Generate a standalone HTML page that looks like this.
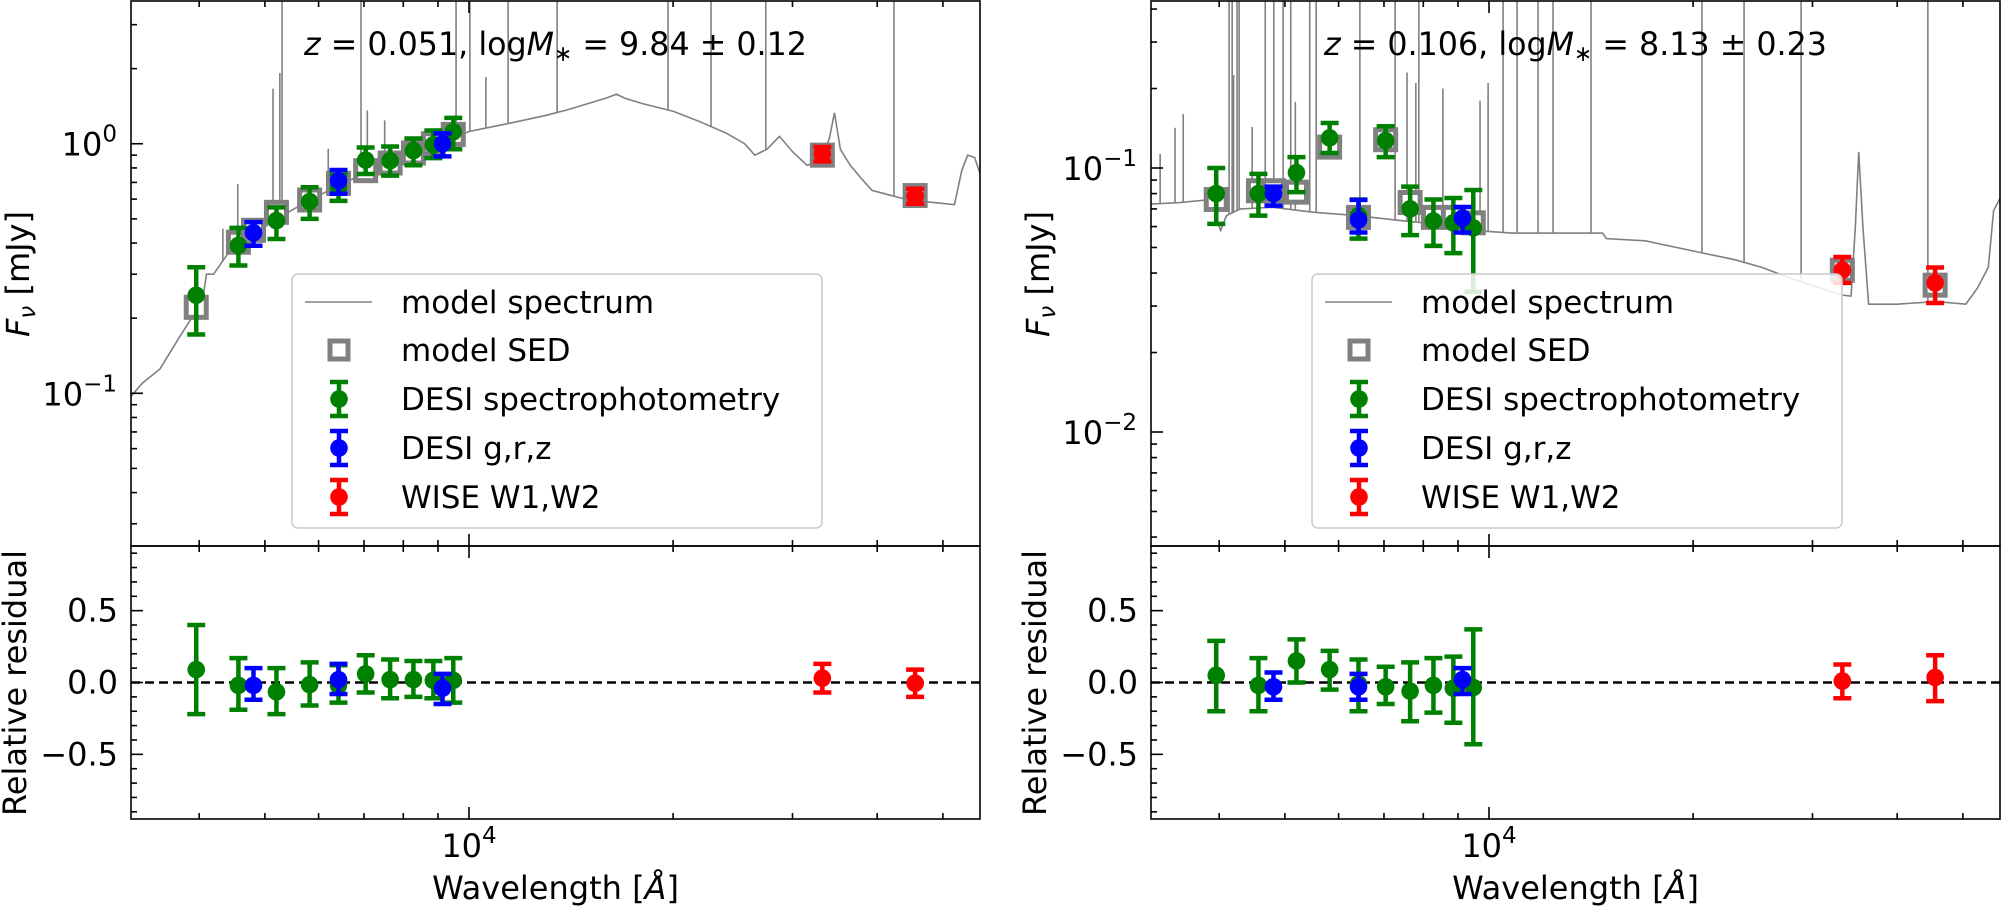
<!DOCTYPE html>
<html><head><meta charset="utf-8"><style>
html,body{margin:0;padding:0;background:#fff;}
svg{display:block;font-family:"DejaVu Sans","Liberation Sans",sans-serif;}
</style></head><body>
<svg id="fig" width="2001" height="908" viewBox="0 0 2001 908" xmlns="http://www.w3.org/2000/svg"></svg>
<script>
// ---------- DATA: left galaxy (z=0.051) ----------
const bandGreen = [3960,4570,5200,5820,6420,7040,7650,8280,8860,9480];
const bandBlue = [4810,6420,9140];
const bandRed = [33200,45500];

const leftGreenFlux = [0.247,0.391,0.492,0.586,0.669,0.86,0.855,0.938,0.99,1.117];
const leftGreenHi = [0.32,0.46,0.556,0.669,0.75,0.966,0.975,1.05,1.13,1.27];
const leftGreenLo = [0.172,0.325,0.415,0.50,0.59,0.756,0.745,0.82,0.876,0.95];
const leftBlueFlux = [0.44,0.711,1.0];
const leftBlueHi = [0.485,0.785,1.1];
const leftBlueLo = [0.39,0.63,0.89];
const leftRedFlux = [0.91,0.615];
const leftRedHi = [0.97,0.66];
const leftRedLo = [0.85,0.575];
const leftSedWave = [3960,4570,4810,5200,5820,6420,7040,7650,8280,8860,9480,33200,45500];
const leftSedFlux = [0.221,0.403,0.45,0.531,0.595,0.694,0.78,0.837,0.918,1.0,1.09,0.90,0.62];
const leftResGreen = [0.09,-0.02,-0.065,-0.015,-0.02,0.06,0.02,0.02,0.015,0.015];
const leftResGreenHi = [0.40,0.17,0.10,0.14,0.12,0.19,0.16,0.15,0.15,0.17];
const leftResGreenLo = [-0.22,-0.19,-0.22,-0.16,-0.14,-0.07,-0.11,-0.10,-0.11,-0.14];
const leftResBlue = [-0.02,0.02,-0.04];
const leftResBlueHi = [0.10,0.13,0.06];
const leftResBlueLo = [-0.12,-0.08,-0.15];
const leftResRed = [0.03,-0.005];
const leftResRedHi = [0.13,0.09];
const leftResRedLo = [-0.07,-0.10];
const leftSpecWave = [3170,3300,3500,3700,3850,3950,4000,4050,4100,4200,4400,4600,4860,5200,5600,6000,6500,7000,7500,8000,8500,9000,9500,10000,11000,12000,13000,14000,15000,16000,16500,17000,18000,20000,22000,24000,25500,26400,27500,28700,30000,31500,33000,34000,34600,35300,36500,38000,39300,42000,44000,46000,49000,52000,53300,54400,55700,56900];
const leftSpecFlux = [0.097,0.11,0.125,0.16,0.19,0.21,0.26,0.24,0.30,0.30,0.36,0.40,0.44,0.50,0.56,0.62,0.69,0.76,0.82,0.88,0.94,0.99,1.05,1.12,1.18,1.24,1.30,1.37,1.45,1.53,1.58,1.52,1.45,1.35,1.22,1.10,1.0,0.90,0.95,1.07,0.93,0.82,0.85,1.05,1.33,0.95,0.82,0.72,0.65,0.62,0.60,0.59,0.58,0.57,0.78,0.90,0.88,0.74];
const leftLineWave = [4335,4560,5140,5260,5300,6200,6930,7080,7510,9570,10030,10590,11420,13490,19660,22750,27400,42350];
const leftLinePeak = [0.457,0.69,1.66,1.92,10,0.955,10,1.36,1.24,10,10,1.85,10,10,10,10,10,10];

// ---------- DATA: right galaxy (z=0.106) ----------
const rightGreenFlux = [0.080,0.080,0.096,0.130,0.066,0.127,0.070,0.063,0.062,0.0593];
const rightGreenHi = [0.100,0.095,0.110,0.148,0.076,0.144,0.085,0.076,0.077,0.0825];
const rightGreenLo = [0.0614,0.066,0.081,0.114,0.054,0.110,0.0557,0.0507,0.0476,0.034];
const rightBlueFlux = [0.080,0.0636,0.0646];
const rightBlueHi = [0.085,0.0757,0.0712];
const rightBlueLo = [0.072,0.057,0.057];
const rightRedFlux = [0.041,0.0367];
const rightRedHi = [0.046,0.042];
const rightRedLo = [0.0367,0.0308];
const rightSedWave = [3960,4570,4810,5200,5820,6420,7040,7650,8280,8860,9480,33200,45500];
const rightSedFlux = [0.076,0.082,0.082,0.081,0.12,0.065,0.128,0.074,0.065,0.065,0.062,0.041,0.036];
const rightResGreen = [0.05,-0.02,0.15,0.09,-0.01,-0.03,-0.06,-0.02,-0.04,-0.035];
const rightResGreenHi = [0.29,0.17,0.30,0.22,0.16,0.11,0.14,0.17,0.18,0.37];
const rightResGreenLo = [-0.20,-0.20,0.0,-0.05,-0.20,-0.15,-0.27,-0.21,-0.28,-0.43];
const rightResBlue = [-0.03,-0.03,0.02];
const rightResBlueHi = [0.07,0.06,0.10];
const rightResBlueLo = [-0.12,-0.12,-0.08];
const rightResRed = [0.01,0.035];
const rightResRedHi = [0.125,0.19];
const rightResRedLo = [-0.11,-0.13];
const rightSpecWave = [3170,3500,3900,3980,4020,4100,4300,4800,5500,6400,7500,8500,9500,10800,12500,14700,14900,17000,20700,23000,25300,28000,32000,33200,34200,34700,35100,35600,36300,40000,44000,47000,50500,52500,54500,55500,56900];
const rightSpecFlux = [0.073,0.074,0.076,0.062,0.058,0.066,0.070,0.071,0.068,0.066,0.063,0.061,0.058,0.0567,0.0567,0.0567,0.054,0.053,0.0476,0.045,0.042,0.038,0.034,0.033,0.0327,0.06,0.115,0.06,0.0305,0.0305,0.031,0.031,0.0305,0.035,0.042,0.069,0.078];
const rightLineWave = [4137,4180,4250,4280,4677,4815,4970,5100,5440,5560,6450,7270,7880,10490,11000,11810,12430,14140,20610,23780,28860,44390,3273,3443,3540,4200,4474,5180,7570,7800,8550,9700,9970];
const rightLinePeak = [10,10,10,10,10,10,10,10,10,10,10,10,10,10,10,10,10,10,10,10,10,10,0.113,0.142,0.16,0.225,0.143,0.178,0.23,0.21,0.20,0.18,0.21];

// ---------- LAYOUT ----------
const NS = "http://www.w3.org/2000/svg";
const svg = document.getElementById('fig');
function mk(tag, attrs, parent){const e=document.createElementNS(NS,tag);for(const k in attrs)e.setAttribute(k,attrs[k]);(parent||svg).appendChild(e);return e;}

const logXmin = 4 - 338/678, pxPerDecX = 678;
const resMin = -0.95, resMax = 0.95;
const mainTop = 1, mainBot = 546, resBot = 819;

function drawPanel(cfg){
  const g = mk('g',{});
  
  
  const x0 = cfg.x0, x1 = cfg.x0 + 849;
  const X = w => x0 + (Math.log10(w) - logXmin) * pxPerDecX;
  const Y = f => mainTop + (cfg.logTop - Math.log10(f)) / (cfg.logTop - cfg.logBot) * (mainBot - mainTop);
  const R = r => mainTop + 545 + (resMax - r) / (resMax - resMin) * (resBot - mainBot);
  const cid = cfg.name + '-clip', rcid = cfg.name + '-rclip';
  const defs = mk('defs',{},g);
  const cp = mk('clipPath',{id:cid},defs); mk('rect',{x:x0,y:mainTop,width:x1-x0,height:mainBot-mainTop},cp);
  const rcp = mk('clipPath',{id:rcid},defs); mk('rect',{x:x0,y:mainBot,width:x1-x0,height:resBot-mainBot},rcp);

  const mg = mk('g',{'clip-path':`url(#${cid})`},g);
  const lg = mk('g',{},mg);
  
  
  const specAt = w => { const sw=cfg.specW, sf=cfg.specF; for(let i=1;i<sw.length;i++){ if(w<=sw[i]){const t=(Math.log10(w)-Math.log10(sw[i-1]))/(Math.log10(sw[i])-Math.log10(sw[i-1])); return Math.pow(10,Math.log10(sf[i-1])+t*(Math.log10(sf[i])-Math.log10(sf[i-1])));}} return sf[sf.length-1]; };
  cfg.lineW.forEach((w,i)=>{
    const l = mk('line',{x1:X(w),x2:X(w),y1:Y(specAt(w)),y2:Y(cfg.lineP[i]),stroke:'#808080','stroke-width':1.6},lg);
    
    
  });
  const sp = mk('polyline',{points:cfg.specW.map((w,i)=>X(w)+','+Y(cfg.specF[i])).join(' '),fill:'none',stroke:'#808080','stroke-width':1.6},mg);
  
  
  cfg.sedW.forEach((w,i)=>{
    const s = mk('rect',{x:X(w)-10,y:Y(cfg.sedF[i])-10,width:20,height:20,fill:'#fff',stroke:'#808080','stroke-width':5},mg);
    
    
  });
  function errPoint(par,x,y,yh,yl,col,name){
    const pg = mk('g',{},par);
    
    
    mk('line',{x1:x,x2:x,y1:yh,y2:yl,stroke:col,'stroke-width':4.5},pg);
    mk('line',{x1:x-9,x2:x+9,y1:yh,y2:yh,stroke:col,'stroke-width':4.5},pg);
    mk('line',{x1:x-9,x2:x+9,y1:yl,y2:yl,stroke:col,'stroke-width':4.5},pg);
    mk('circle',{cx:x,cy:y,r:8.8,fill:col},pg);
  }
  const series = [[bandGreen,cfg.gF,cfg.gH,cfg.gL,'#008000','desi-spectrophotometry-point'],[bandBlue,cfg.bF,cfg.bH,cfg.bL,'#0000ff','desi-grz-point'],[bandRed,cfg.rF,cfg.rH,cfg.rL,'#ff0000','wise-point']];
  series.forEach(s=>s[0].forEach((w,i)=>errPoint(mg,X(w),Y(s[1][i]),Y(s[2][i]),Y(s[3][i]),s[4],s[5])));

  const rg = mk('g',{'clip-path':`url(#${rcid})`},g);
  const zl = mk('line',{x1:x0,x2:x1,y1:R(0),y2:R(0),stroke:'#000','stroke-width':2.5,'stroke-dasharray':'9,5'},rg);
  
  
  const rseries = [[bandGreen,cfg.rgV,cfg.rgH,cfg.rgL,'#008000','residual-spectrophotometry-point'],[bandBlue,cfg.rbV,cfg.rbH,cfg.rbL,'#0000ff','residual-grz-point'],[bandRed,cfg.rrV,cfg.rrH,cfg.rrL,'#ff0000','residual-wise-point']];
  rseries.forEach(s=>s[0].forEach((w,i)=>errPoint(rg,X(w),R(s[1][i]),R(s[2][i]),R(s[3][i]),s[4],s[5])));

  const ax = mk('g',{stroke:'#000','stroke-width':1.6,fill:'none'},g);
  mk('rect',{x:x0,y:mainTop,width:x1-x0,height:mainBot-mainTop},ax);
  mk('rect',{x:x0,y:mainBot,width:x1-x0,height:resBot-mainBot},ax);
  const xMaj=[10000], xMin=[4000,5000,6000,7000,8000,9000,20000,30000,40000,50000];
  [[mainTop,1],[mainBot,-1],[mainBot,1],[resBot,-1]].forEach(([yy,d])=>{
    xMaj.forEach(w=>mk('line',{x1:X(w),x2:X(w),y1:yy,y2:yy+d*12},ax));
    xMin.forEach(w=>mk('line',{x1:X(w),x2:X(w),y1:yy,y2:yy+d*6},ax));
  });
  for(let e=-3;e<=1;e++){
    for(let k=1;k<10;k++){
      const v=k*Math.pow(10,e), yy=Y(v);
      if(yy<mainTop+0.5||yy>mainBot-0.5) continue;
      mk('line',{x1:x0,x2:x0+(k===1?12:6),y1:yy,y2:yy},ax);
      if(k===1){
        const t = mk('text',{x:x0-14,y:yy+12,'text-anchor':'end','font-size':32,fill:'#000',stroke:'none'},g);
        
        
        t.textContent='10';
        const sup = mk('tspan',{dy:-14,'font-size':23},t); sup.textContent = e<0 ? '\u2212'+(-e) : String(e);
      }
    }
  }
  for(let i=-9;i<=9;i++){
    const v=i/10, yy=R(v);
    const major = (i%5===0);
    mk('line',{x1:x0,x2:x0+(major?12:6),y1:yy,y2:yy},ax);
  }
  const resLabels = ['0.5','0.0','\u22120.5'], resVals=[0.5,0,-0.5];
  resVals.forEach((v,i)=>{
    const t = mk('text',{x:x0-13,y:R(v)+11,'text-anchor':'end','font-size':32,fill:'#000'},g);
    
    
    t.textContent = resLabels[i];
  });
  const xl = mk('text',{x:X(10000),y:857,'text-anchor':'middle','font-size':32,fill:'#000'},g);
  
  
  xl.textContent='10';
  const xs = mk('tspan',{dy:-14,'font-size':23},xl); xs.textContent='4';
  const xt = mk('text',{x:(x0+x1)/2,y:899,'text-anchor':'middle','font-size':32,fill:'#000'},g);
  
  
  xt.textContent='Wavelength [';
  const it = mk('tspan',{'font-style':'italic'},xt); it.textContent='\u00c5';
  const it2 = mk('tspan',{},xt); it2.textContent=']';
  const yt = mk('text',{x:0,y:0,transform:`translate(${x0-102},274) rotate(-90)`,'text-anchor':'middle','font-size':32,fill:'#000'},g);
  
  
  const yf = mk('tspan',{'font-style':'italic'},yt); yf.textContent='F';
  const yn = mk('tspan',{'font-style':'italic','font-size':23,dy:6},yt); yn.textContent='\u03bd';
  const yr = mk('tspan',{dy:-6},yt); yr.textContent=' [mJy]';
  const rt = mk('text',{x:0,y:0,transform:`translate(${x0-105},683) rotate(-90)`,'text-anchor':'middle','font-size':32,fill:'#000'},g);
  
  
  rt.textContent='Relative residual';
  const tt = mk('text',{x:(x0+x1)/2,y:55,'text-anchor':'middle','font-size':32,fill:'#000',textLength:503,lengthAdjust:'spacingAndGlyphs'},g);
  
  
  const a=mk('tspan',{'font-style':'italic'},tt); a.textContent='z';
  const b=mk('tspan',{},tt); b.textContent=' = '+cfg.z+', log';
  const c=mk('tspan',{'font-style':'italic'},tt); c.textContent='M';
  const d=mk('tspan',{'font-size':22,dy:6},tt); d.textContent='\u2217';
  const e2=mk('tspan',{dy:-6},tt); e2.textContent=' = '+cfg.mass;

  const L = mk('g',{},g);
  
  
  const lx = x0+161;
  mk('rect',{x:lx,y:274,width:530,height:254,rx:6,fill:'#fff','fill-opacity':0.85,stroke:'#cccccc','stroke-width':1.6},L);
  const hx = lx+47, tx = lx+109;
  const rows=[302,350,399,448,497];
  const names=['model spectrum','model SED','DESI spectrophotometry','DESI g,r,z','WISE W1,W2'];
  const eNames=['legend-model-spectrum','legend-model-sed','legend-desi-spectrophotometry','legend-desi-grz','legend-wise'];
  rows.forEach((ry,i)=>{
    const eg = mk('g',{},L);
    
    
    if(i===0) mk('line',{x1:hx-34,x2:hx+33,y1:ry,y2:ry,stroke:'#808080','stroke-width':1.6},eg);
    else if(i===1) mk('rect',{x:hx-9,y:ry-9,width:18,height:18,fill:'#fff',stroke:'#808080','stroke-width':5},eg);
    else { const col=['#008000','#0000ff','#ff0000'][i-2]; errPoint(eg,hx,ry,ry-17,ry+17,col,'legend-marker'); }
    const t = mk('text',{x:tx,y:ry+11,'font-size':31,fill:'#000'},eg);
    t.textContent=names[i];
  });
}

drawPanel({name:'left-panel',x0:131,logTop:0.572,logBot:-1.612,z:'0.051',mass:'9.84 \u00b1 0.12',
  specW:leftSpecWave,specF:leftSpecFlux,lineW:leftLineWave,lineP:leftLinePeak,sedW:leftSedWave,sedF:leftSedFlux,
  gF:leftGreenFlux,gH:leftGreenHi,gL:leftGreenLo,bF:leftBlueFlux,bH:leftBlueHi,bL:leftBlueLo,rF:leftRedFlux,rH:leftRedHi,rL:leftRedLo,
  rgV:leftResGreen,rgH:leftResGreenHi,rgL:leftResGreenLo,rbV:leftResBlue,rbH:leftResBlueHi,rbL:leftResBlueLo,rrV:leftResRed,rrH:leftResRedHi,rrL:leftResRedLo});
drawPanel({name:'right-panel',x0:1151,logTop:-0.3674,logBot:-2.4318,z:'0.106',mass:'8.13 \u00b1 0.23',
  specW:rightSpecWave,specF:rightSpecFlux,lineW:rightLineWave,lineP:rightLinePeak,sedW:rightSedWave,sedF:rightSedFlux,
  gF:rightGreenFlux,gH:rightGreenHi,gL:rightGreenLo,bF:rightBlueFlux,bH:rightBlueHi,bL:rightBlueLo,rF:rightRedFlux,rH:rightRedHi,rL:rightRedLo,
  rgV:rightResGreen,rgH:rightResGreenHi,rgL:rightResGreenLo,rbV:rightResBlue,rbH:rightResBlueHi,rbL:rightResBlueLo,rrV:rightResRed,rrH:rightResRedHi,rrL:rightResRedLo});
</script>
</body></html>
